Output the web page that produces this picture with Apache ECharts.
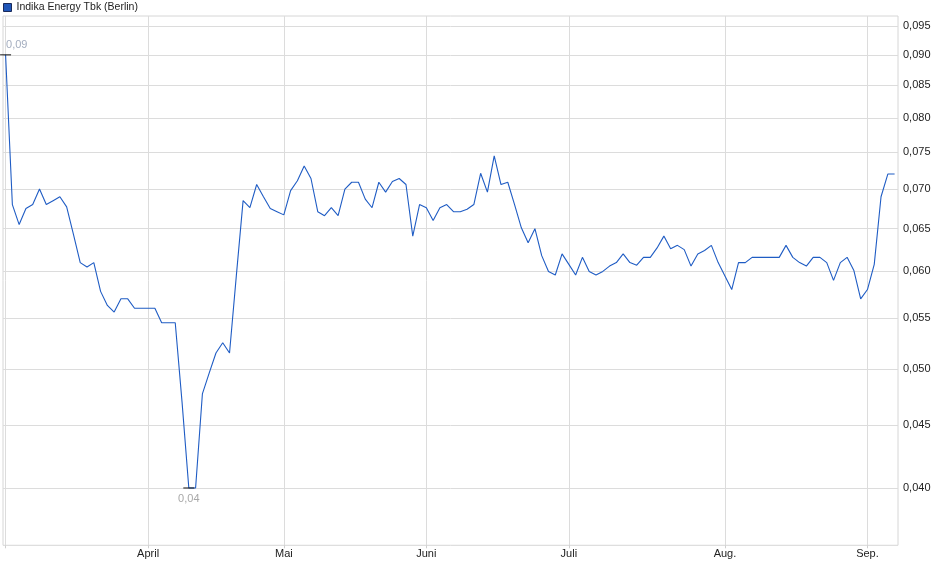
<!DOCTYPE html>
<html>
<head>
<meta charset="utf-8">
<script src="https://cdn.jsdelivr.net/npm/echarts@6/dist/echarts.min.js"></script>
<style>
html,body{margin:0;padding:0;background:#fff;}
#chart{width:940px;height:579px;}
</style>
</head>
<body>
<div id="chart"></div>
<script>
// Trading-day index 0 = 3 Mar 2025 ... 131 = 5 Sep 2025 (Börse Berlin)
const seriesName = 'Indika Energy Tbk (Berlin)';
const prices = [
  0.090, 0.068, 0.0655, 0.0675, 0.068, 0.070, 0.068, 0.0685, 0.069, 0.0677,
  0.0643, 0.061, 0.0605, 0.061, 0.0578, 0.0563, 0.0556, 0.057, 0.057, 0.056,
  0.056, 0.056, 0.056, 0.0545, 0.0545, 0.0545, 0.047, 0.040, 0.040, 0.0477,
  0.0496, 0.0515, 0.0525, 0.0515, 0.0595, 0.0685, 0.0676, 0.0706, 0.069, 0.0675,
  0.0671, 0.0667, 0.0698, 0.0711, 0.0731, 0.0714, 0.0671, 0.0666, 0.0676, 0.0666,
  0.070, 0.0709, 0.0709, 0.0687, 0.0676, 0.0709, 0.0696, 0.071, 0.0714, 0.0706,
  0.0641, 0.068, 0.0676, 0.066, 0.0676, 0.068, 0.0671, 0.0671, 0.0674, 0.068,
  0.0721, 0.0696, 0.0745, 0.0706, 0.0709, 0.068, 0.0651, 0.0633, 0.065, 0.0618,
  0.060, 0.0596, 0.062, 0.0608, 0.0596, 0.0616, 0.060, 0.0596, 0.060, 0.0606,
  0.061, 0.062, 0.061, 0.0607, 0.0616, 0.0616, 0.0627, 0.0641, 0.0626, 0.063,
  0.0625, 0.0606, 0.062, 0.0624, 0.063, 0.061, 0.0595, 0.058, 0.061, 0.061,
  0.0616, 0.0616, 0.0616, 0.0616, 0.0616, 0.063, 0.0616, 0.061, 0.0606, 0.0616,
  0.0616, 0.061, 0.059, 0.061, 0.0616, 0.0601, 0.057, 0.058, 0.0608, 0.069,
  0.072, 0.072
];
const monthStartIdx = [0, 21, 41, 62, 83, 106, 127];
const monthLabels   = ['', 'April', 'Mai', 'Juni', 'Juli', 'Aug.', 'Sep.'];
const yTicks = [0.040, 0.045, 0.050, 0.055, 0.060, 0.065, 0.070, 0.075, 0.080, 0.085, 0.090, 0.095];
const yMin = 0.03593, yMax = 0.09679;

const LN = Math.log;
const lineData = prices.map((v, i) => [i, LN(v)]);
const fmtComma = (v, d) => v.toFixed(d).replace('.', ',');

const chart = echarts.init(document.getElementById('chart'), null, {renderer: 'canvas'});
chart.setOption({
  animation: false,
  backgroundColor: '#fff',
  textStyle: {fontFamily: 'Liberation Sans, Arial, sans-serif'},
  legend: {
    left: 3, top: 2, padding: 0,
    icon: 'rect', itemWidth: 8, itemHeight: 8,
    textStyle: {fontSize: 10.5, color: '#222', fontFamily: 'Liberation Sans, Arial, sans-serif'},
    itemStyle: {borderColor: '#1a2a5a', borderWidth: 1},
    data: [seriesName]
  },
  grid: {
    left: 3, right: 42, top: 16, bottom: 33.7,
    show: true, borderColor: '#d6d6d6', borderWidth: 1, containLabel: false
  },
  xAxis: {
    type: 'value',
    min: -0.38, max: 131.5,
    axisLine: {show: false},
    axisTick: {show: true, length: 3, inside: false, lineStyle: {color: '#cfcfcf'}, customValues: monthStartIdx},
    splitLine: {show: true, lineStyle: {color: '#dcdcdc', width: 1}},
    axisLabel: {
      customValues: monthStartIdx.slice(1),
      margin: 3, fontSize: 11, color: '#222',
      fontFamily: 'Liberation Sans, Arial, sans-serif',
      formatter: (v) => {
        const k = monthStartIdx.indexOf(Math.round(v));
        return k >= 0 ? monthLabels[k] : '';
      }
    }
  },
  yAxis: {
    type: 'value',
    position: 'right',
    min: LN(yMin), max: LN(yMax),
    axisLine: {show: false},
    axisTick: {show: false, customValues: yTicks.map(LN)},
    splitLine: {show: true, lineStyle: {color: '#dcdcdc', width: 1}},
    axisLabel: {
      customValues: yTicks.map(LN),
      margin: 5, fontSize: 11, color: '#222',
      fontFamily: 'Liberation Sans, Arial, sans-serif',
      formatter: (v) => fmtComma(Math.exp(v), 3)
    }
  },
  series: [{
    name: seriesName,
    type: 'line',
    data: lineData,
    showSymbol: false,
    symbol: 'none',
    color: '#1f56b8',
    lineStyle: {color: '#1f5cc4', width: 1.1},
    itemStyle: {color: '#1f56b8'},
    markPoint: {
      symbol: 'rect',
      symbolSize: [11, 1],
      itemStyle: {color: '#111'},
      silent: true,
      data: [
        {type: 'max', label: {position: [6, -15], color: '#a3adbf'}},
        {type: 'min', label: {position: 'bottom', distance: 5, color: '#a8a8a8'}}
      ],
      label: {
        show: true, fontSize: 11,
        fontFamily: 'Liberation Sans, Arial, sans-serif',
        formatter: (p) => fmtComma(Math.exp(p.value), 2)
      }
    }
  }]
});
</script>
</body>
</html>
